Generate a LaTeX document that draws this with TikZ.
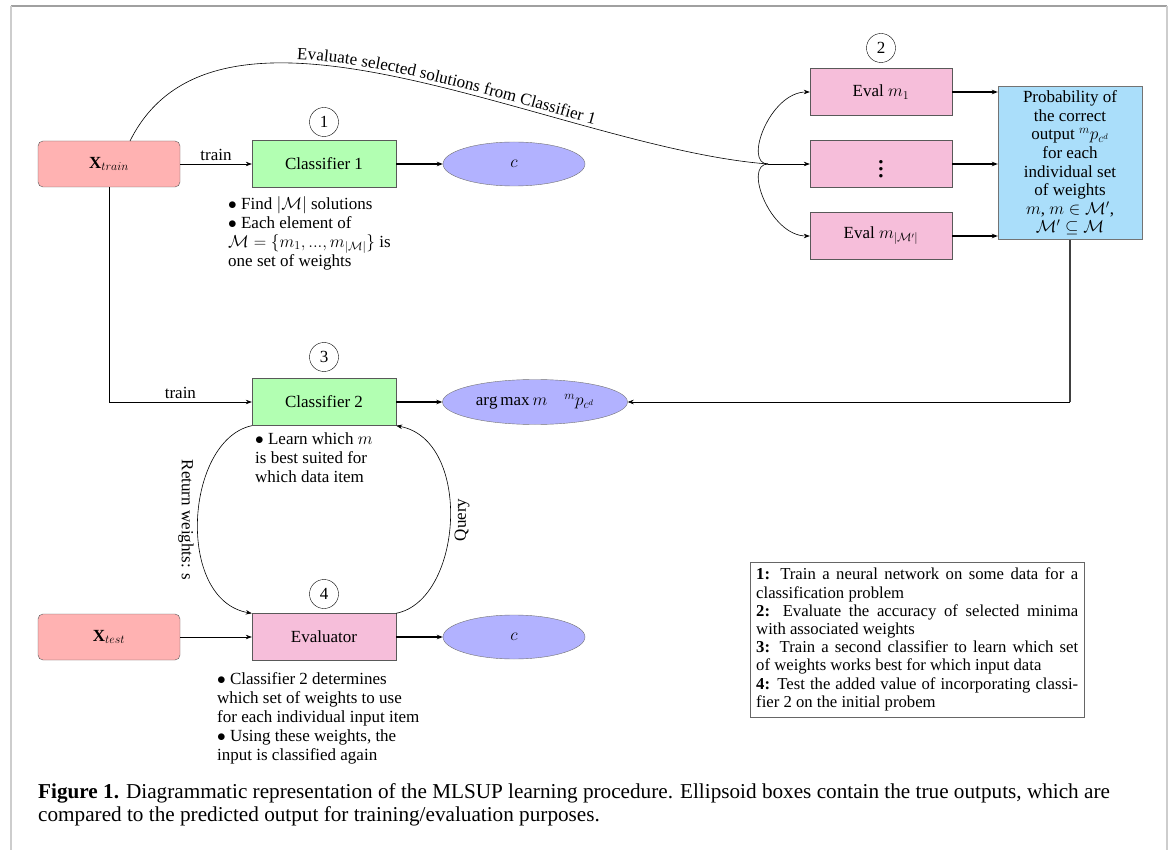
\documentclass[tikz,border=0pt]{standalone}
\usepackage{fontspec}
\usepackage{graphicx}
\setmainfont{Liberation Serif}
\usetikzlibrary{shapes.geometric,arrows.meta,decorations.text,calc}
\definecolor{evalpink}{RGB}{246,190,218}
\definecolor{probblue}{RGB}{170,222,250}
\definecolor{framegray}{RGB}{160,160,160}
\definecolor{sidegray}{RGB}{205,205,205}
\begin{document}
\begin{tikzpicture}[x=1pt,y=-1pt,
  font=\fontsize{17}{19}\selectfont,
  inbox/.style={draw=black!65, fill=red!30, rounded corners=5pt, minimum width=142pt, minimum height=46pt, inner sep=2pt},
  clsbox/.style={draw=black!65, fill=green!30, minimum width=144pt, minimum height=47pt, inner sep=2pt},
  evbox/.style={draw=black!65, fill=evalpink, minimum width=142pt, minimum height=47pt, inner sep=2pt},
  outell/.style={ellipse, draw=black!55, fill=blue!30, minimum width=142pt, minimum height=44pt, inner sep=1pt},
  stepnum/.style={circle, draw=black, minimum size=29pt, inner sep=0pt},
  note/.style={anchor=north west, align=left, inner sep=0pt},
  arr/.style={-{Stealth[length=6pt,width=4.5pt]}, black, line width=0.6pt},
  thk/.style={arr, line width=1.5pt}]
\useasboundingbox (0,0) rectangle (1173,850);
% frame
\draw[framegray, line width=1.5pt] (11,6) -- (1167,6);
\draw[sidegray, line width=2pt] (11,6) -- (11,850);
\draw[sidegray, line width=2pt] (1167,6) -- (1167,850);

% nodes
\node[inbox] (xtrain) at (109,164) {$\mathbf{X}_{train}$};
\node[clsbox] (c1) at (324,164) {Classifier 1};
\node[outell] (o1) at (514,164) {$c$};
\node[stepnum] (n1) at (324,122) {1};
\node[note] (t1) at (228,196) {$\bullet$ Find $|\mathcal{M}|$ solutions\\$\bullet$ Each element of\\$\mathcal{M}=\{m_1,...,m_{|\mathcal{M}|}\}$ is\\one set of weights};

\node[evbox] (e1) at (881,92) {Eval $m_1$};
\node[evbox] (e2) at (881,164) {\scalebox{1.7}{$\vdots$}};
\node[evbox] (e3) at (881,236) {Eval $m_{|\mathcal{M}'|}$};
\node[stepnum] (n2) at (881,48) {2};
\node[draw=black!55, fill=probblue, minimum width=144pt, minimum height=153pt, align=center, inner sep=1pt, font=\fontsize{17}{18.6}\selectfont] (prob) at (1070,163)
 {Probability of\\the correct\\output ${}^{m}p_{c^d}$\\for each\\individual set\\of weights\\$m$, $m\in\mathcal{M}'$,\\$\mathcal{M}'\subseteq\mathcal{M}$};

\node[clsbox] (c2) at (324,402) {Classifier 2};
\node[outell, minimum width=185pt, minimum height=45pt] (o2) at (535,402) {$\arg\max m\quad {}^{m}p_{c^d}$};
\node[stepnum] (n3) at (324,357) {3};
\node[note] (t2) at (255,433) {$\bullet$ Learn which $m$\\is best suited for\\which data item};

\node[inbox] (xtest) at (109,637) {$\mathbf{X}_{test}$};
\node[evbox, minimum width=144pt] (ev) at (324,637) {Evaluator};
\node[outell] (o3) at (514,637) {$c$};
\node[stepnum] (n4) at (324,594) {4};
\node[note] (t3) at (217,672) {$\bullet$ Classifier 2 determines\\which set of weights to use\\for each individual input item\\$\bullet$ Using these weights, the\\input is classified again};

\node[draw=black!60, anchor=north west, text width=322pt, align=justify, inner sep=6pt, font=\fontsize{16.7}{18.2}\selectfont] (legend) at (750,562)
 {\textbf{1:} Train a neural network on some data for a\linebreak
 classification problem\par
 \textbf{2:} Evaluate the accuracy of selected minima\linebreak
 with associated weights\par
 \textbf{3:} Train a second classifier to learn which set\linebreak
 of weights works best for which input data\par
 \textbf{4:} Test the added value of incorporating classi-\linebreak
 fier 2 on the initial probem};

\node[anchor=north west, align=left, inner sep=0pt, font=\fontsize{21.2}{23.5}\selectfont] (cap) at (38,783)
 {\textbf{Figure 1.} Diagrammatic representation of the MLSUP learning procedure. Ellipsoid boxes contain the true outputs, which are\\
 compared to the predicted output for training/evaluation purposes.};

% connectors
\draw[arr] (xtrain) -- node[above] {train} (c1);
\draw[thk] (c1) -- (o1);
\coordinate (evs) at (130,141);
\coordinate (jn) at (768,164);
\draw[black, line width=0.6pt, postaction={decorate},
  decoration={text along path, raise=4pt, text align={left indent=196pt},
  text={|\fontsize{17}{19}\selectfont|Evaluate selected solutions from Classifier 1}}]
  (evs) .. controls (220,-40) and (560,148) .. (jn);
\draw[arr] (jn) -- (e2.west);
\draw[arr] (jn) .. controls +(-25,0) and +(-40,0) .. (e1.west);
\draw[arr] (jn) .. controls +(-25,0) and +(-40,0) .. (e3.west);
\draw[thk] (e1) -- (e1 -| prob.west);
\draw[thk] (e2) -- (e2 -| prob.west);
\draw[thk] (e3) -- (e3 -| prob.west);
\coordinate (pc) at (prob.south |- o2.east);
\draw[black!75, line width=1.4pt] (prob.south) -- (pc);
\draw[arr] (pc) -- (o2.east);
\draw[arr] (xtrain.south) |- node[pos=0.75, above] {train} (c2.west);
\draw[thk] (c2) -- (o2);
\draw[arr] (c2.south west) .. controls (185,440) and (175,600) .. (ev.north west);
\draw[arr] (ev.north east) .. controls (463,600) and (473,440) .. (c2.south east);
\node[rotate=-90] (lret) at (186,520) {Return weights: s};
\node[rotate=90] (lq) at (462,520) {Query};
\draw[arr] (xtest) -- (ev);
\draw[thk] (ev) -- (o3);
\end{tikzpicture}
\end{document}
